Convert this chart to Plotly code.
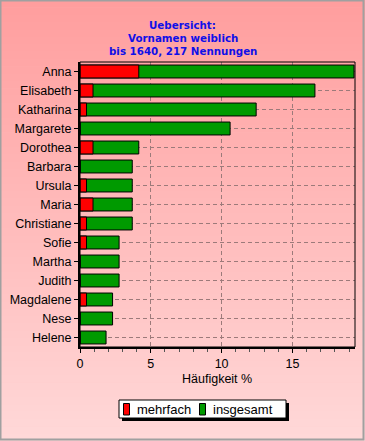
import plotly.graph_objects as go

# ---- data (percent of 217 mentions) ----
names = ["Anna", "Elisabeth", "Katharina", "Margarete", "Dorothea", "Barbara", "Ursula",
         "Maria", "Christiane", "Sofie", "Martha", "Judith", "Magdalene", "Nese", "Helene"]
insgesamt = [19.35, 16.59, 12.44, 10.60, 4.15, 3.69, 3.69, 3.69, 3.69, 2.76, 2.76, 2.76, 2.30, 2.30, 1.84]
mehrfach = [4.15, 0.92, 0.46, 0.0, 0.92, 0.0, 0.46, 0.92, 0.46, 0.46, 0.0, 0.0, 0.46, 0.0, 0.0]
x_ticks = [0, 5, 10, 15]
title_lines = ["Uebersicht:", "Vornamen weiblich", "bis 1640, 217 Nennungen"]
series_names = ["mehrfach", "insgesamt"]
series_colors = ["#FF0000", "#009A00"]

W, H = 365, 441
L, R, T, B = 80, 10, 62, 94
PW, PH = W - L - R, H - T - B


def px(x):
    return (x - L) / PW


def py(y):
    return (H - B - y) / PH


FONT = "Liberation Sans, Arial, sans-serif"
TFONT = "DejaVu Sans, Liberation Sans, sans-serif"

fig = go.Figure()
fig.add_trace(go.Bar(
    y=names, x=insgesamt, orientation="h", name=series_names[1],
    marker=dict(color=series_colors[1], line=dict(color="black", width=1)), width=0.68,
    showlegend=False,
))
fig.add_trace(go.Bar(
    y=names, x=mehrfach, orientation="h", name=series_names[0],
    marker=dict(color=series_colors[0], line=dict(color="black", width=1)), width=0.68,
    showlegend=False,
))

shapes = []
# background gradient
n = 60
top_c = (255, 158, 158)
bot_c = (255, 216, 216)
for i in range(n):
    t = i / (n - 1)
    c = tuple(int(round(top_c[k] + (bot_c[k] - top_c[k]) * t)) for k in range(3))
    y0 = H * i / n
    y1 = H * (i + 1) / n + 0.5
    shapes.append(dict(type="rect", xref="paper", yref="paper",
                       x0=px(0), x1=px(W), y0=py(y1), y1=py(y0),
                       fillcolor="rgb(%d,%d,%d)" % c, line=dict(width=0), layer="below"))
# outer border
shapes.append(dict(type="rect", xref="paper", yref="paper",
                   x0=px(0.5), x1=px(W - 1.5), y0=py(H - 1.5), y1=py(0.5),
                   fillcolor="rgba(0,0,0,0)", line=dict(color="#A0A0A0", width=2), layer="above"))
# plot frame (thin top/right)
shapes.append(dict(type="rect", xref="paper", yref="paper", x0=0, x1=1, y0=0, y1=1,
                   line=dict(color="black", width=1), fillcolor="rgba(0,0,0,0)", layer="above"))

# custom legend: shadow, box, swatches
shapes.append(dict(type="rect", xref="paper", yref="paper",
                   x0=px(122), x1=px(289), y0=py(421), y1=py(403),
                   fillcolor="black", line=dict(width=0), layer="above"))
shapes.append(dict(type="rect", xref="paper", yref="paper",
                   x0=px(119), x1=px(286), y0=py(418), y1=py(400),
                   fillcolor="white", line=dict(color="black", width=1), layer="above"))
swatch_x = [123.5, 199.5]
text_x = [135, 210.5]
for sx, col in zip(swatch_x, series_colors):
    shapes.append(dict(type="rect", xref="paper", yref="paper",
                       x0=px(sx), x1=px(sx + 6), y0=py(415), y1=py(403.5),
                       fillcolor=col, line=dict(color="black", width=1), layer="above"))

annotations = []
for tx, nm in zip(text_x, series_names):
    annotations.append(dict(text=nm, xref="paper", yref="paper", x=px(tx), y=py(409),
                            xanchor="left", yanchor="middle", showarrow=False,
                            font=dict(family=FONT, size=13, color="black")))
for i, line in enumerate(title_lines):
    annotations.append(dict(text="<b>%s</b>" % line, xref="paper", yref="paper",
                            x=px(182.5), y=py(25 + 13 * i), xanchor="center", yanchor="middle",
                            showarrow=False, borderpad=0,
                            font=dict(family=TFONT, size=10.3, color="#1010E8")))
annotations.append(dict(text="Häufigkeit %", xref="paper", yref="paper",
                        x=px(217), y=py(379), xanchor="center", yanchor="middle",
                        showarrow=False, font=dict(family=FONT, size=12.5, color="black")))

GRID = "#9C7A7A"
fig.update_layout(
    width=W, height=H,
    margin=dict(l=L, r=R, t=T, b=B, autoexpand=False),
    paper_bgcolor="#FFC0C0",
    plot_bgcolor="rgba(0,0,0,0)",
    barmode="overlay",
    showlegend=False,
    shapes=shapes,
    annotations=annotations,
    font=dict(family=FONT, size=12, color="black"),
    xaxis=dict(range=[0, 19.42], tickvals=x_ticks, ticktext=[str(v) for v in x_ticks],
               ticks="outside", ticklen=4, tickcolor="black",
               minor=dict(dtick=1, ticks="outside", ticklen=3, tickcolor="#555", showgrid=False),
               showgrid=True, gridcolor=GRID, griddash="4px,3px", gridwidth=1,
               showline=True, linecolor="black", linewidth=2, zeroline=False,
               tickfont=dict(family=FONT, size=12.5, color="black")),
    yaxis=dict(autorange="reversed", categoryorder="array", categoryarray=names,
               ticks="outside", ticklen=4, tickcolor="black",
               showgrid=True, gridcolor=GRID, griddash="4px,3px", gridwidth=1,
               showline=True, linecolor="black", linewidth=2, zeroline=False,
               tickfont=dict(family=FONT, size=12.5, color="black")),
)

fig.write_html("out.html", config={"displayModeBar": False},
               post_script="document.body.style.margin='0px';")
